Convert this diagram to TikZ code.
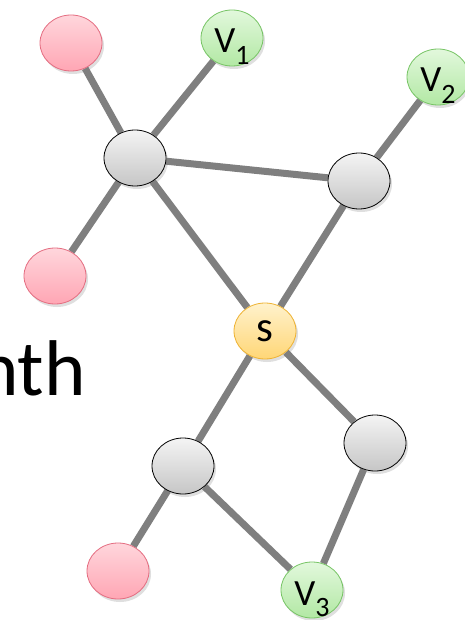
\documentclass[tikz,border=0pt]{standalone}
\usepackage{fontspec}
\setmainfont{Carlito}
\usepackage{tikz}
\usetikzlibrary{shapes.geometric,shadows,backgrounds}
\definecolor{edgegray}{RGB}{127,127,127}
\definecolor{graytop}{RGB}{244,244,244}
\definecolor{graybot}{RGB}{198,198,198}
\definecolor{redtop}{RGB}{255,214,220}
\definecolor{redbot}{RGB}{255,166,180}
\definecolor{redline}{RGB}{228,108,128}
\definecolor{greentop}{RGB}{226,248,220}
\definecolor{greenbot}{RGB}{178,232,164}
\definecolor{greenline}{RGB}{118,196,100}
\definecolor{yellowtop}{RGB}{255,242,204}
\definecolor{yellowbot}{RGB}{255,214,118}
\definecolor{yellowline}{RGB}{238,178,50}
\tikzset{
  vertex/.style={ellipse, minimum width=62pt, minimum height=56pt, inner sep=0pt, line width=0.8pt,
    drop shadow={opacity=0.25, shadow xshift=2pt, shadow yshift=-3pt}},
  innerv/.style={vertex, draw=black, top color=graytop, bottom color=graybot},
  leafv/.style={vertex, draw=redline, top color=redtop, bottom color=redbot},
  targetv/.style={vertex, draw=greenline, top color=greentop, bottom color=greenbot,
    font=\fontsize{37}{37}\selectfont, text height=30pt, text depth=0pt},
  sourcev/.style={vertex, draw=yellowline, top color=yellowtop, bottom color=yellowbot, font=\fontsize{43}{43}\selectfont},
  link/.style={draw=edgegray, line width=7pt},
  bigtext/.style={font=\fontsize{79}{79}\selectfont, inner sep=0pt}
}
\newcommand{\vlab}[1]{V\raisebox{-0.3em}{\fontsize{28}{28}\selectfont #1}}

\begin{document}
\begin{tikzpicture}[x=1pt,y=-1pt]
  \useasboundingbox (0,0) rectangle (465,620);
  \node[bigtext, anchor=base east] (word) at (86,395) {nth};
  % upper part
  \node[leafv] (leafa) at (71,43) {};
  \node[targetv] (vone) at (232,38) {\vlab{1}};
  \node[targetv] (vtwo) at (438,77) {\vlab{2}};
  \node[innerv] (huba) at (135,158) {};
  \node[innerv] (hubb) at (359,181) {};
  \node[leafv] (leafb) at (55,276) {};
  \node[sourcev] (src) at (265,331) {s};
  % lower part
  \node[innerv] (hubc) at (375,443) {};
  \node[innerv] (hubd) at (183,466) {};
  \node[leafv] (leafc) at (118,571) {};
  \node[targetv] (vthree) at (312,590) {\vlab{3}};
  \begin{scope}[on background layer]
    \draw[link] (leafa) -- (huba);
    \draw[link] (vone) -- (huba);
    \draw[link] (leafb) -- (huba);
    \draw[link] (huba) -- (hubb);
    \draw[link] (huba) -- (src);
    \draw[link] (hubb) -- (vtwo);
    \draw[link] (hubb) -- (src);
    \draw[link] (src) -- (hubd);
    \draw[link] (src) -- (hubc);
    \draw[link] (hubd) -- (leafc);
    \draw[link] (hubd) -- (vthree);
    \draw[link] (hubc) -- (vthree);
  \end{scope}
\end{tikzpicture}
\end{document}
